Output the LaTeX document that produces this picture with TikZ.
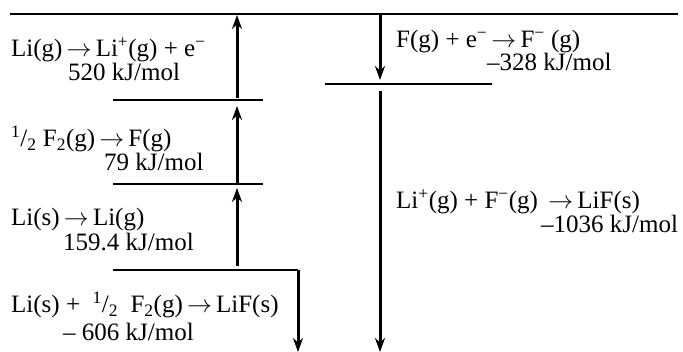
\documentclass[tikz,border=0pt]{standalone}
\usepackage{fontspec}
\setmainfont{Liberation Serif}
\usetikzlibrary{arrows.meta}
\tikzset{
  levelline/.style={line width=1.8pt},
  enarrow/.style={line width=3pt, -{Stealth[length=14pt,width=10pt]}},
  lbl/.style={anchor=base west, inner sep=0pt, font=\fontsize{25}{29}\selectfont}
}
\newcommand{\half}{\textsuperscript{1}/\textsubscript{2}}
\newcommand{\rarr}{\,$\rightarrow$\,}
\begin{document}
\begin{tikzpicture}[x=1pt,y=-1pt]
\useasboundingbox (0,0) rectangle (683,352);
% level lines
\coordinate (topL) at (10,14);
\coordinate (topR) at (678,14);
\coordinate (l2a) at (113,100);
\coordinate (l2b) at (263,100);
\coordinate (l3a) at (113,184);
\coordinate (l3b) at (263,184);
\coordinate (l4a) at (113,270);
\coordinate (l4b) at (298,270);
\coordinate (l4bot) at (298,352);
\coordinate (rla) at (325,84);
\coordinate (rlb) at (492,84);
\draw[levelline] (topL) -- (topR);
\draw[levelline] (l2a) -- (l2b);
\draw[levelline] (l3a) -- (l3b);
\draw[levelline] (l4a) -- (l4b);
\draw[levelline] (rla) -- (rlb);
% arrows
\coordinate (a1s) at (237,98);  \coordinate (a1e) at (237,15);
\coordinate (a2s) at (237,184); \coordinate (a2e) at (237,106);
\coordinate (a3s) at (237,266); \coordinate (a3e) at (237,188);
\coordinate (a5s) at (380,15);  \coordinate (a5e) at (380,80);
\coordinate (a6s) at (380,91);  \coordinate (a6e) at (380,352);
\draw[enarrow] (a1s) -- (a1e);
\draw[enarrow] (a2s) -- (a2e);
\draw[enarrow] (a3s) -- (a3e);
\draw[enarrow] (l4b) -- (l4bot);
\draw[enarrow] (a5s) -- (a5e);
\draw[enarrow] (a6s) -- (a6e);
% labels
\node[lbl] (t1) at (11,57) {Li(g)\rarr Li\textsuperscript{+}(g) + e\textsuperscript{−}};
\node[lbl] (t2) at (68,81) {520 kJ/mol};
\node[lbl] (t3) at (11,147) {\half\ F\textsubscript{2}(g)\rarr F(g)};
\node[lbl] (t4) at (104,171) {79 kJ/mol};
\node[lbl] (t5) at (11,226) {Li(s)\rarr Li(g)};
\node[lbl] (t6) at (63,251) {159.4 kJ/mol};
\node[lbl] (t7) at (11,313) {Li(s) +\ \ \half\ \ F\textsubscript{2}(g)\rarr LiF(s)};
\node[lbl] (t8) at (63,341) {– 606 kJ/mol};
\node[lbl] (t9) at (396,48) {F(g) + e\textsuperscript{−}\rarr F\textsuperscript{−} (g)};
\node[lbl] (t10) at (487,71) {–328 kJ/mol};
\node[lbl] (t11) at (396,209) {Li\textsuperscript{+}(g) + F\textsuperscript{−}(g)\ \rarr LiF(s)};
\node[lbl] (t12) at (541,233) {–1036 kJ/mol};
\end{tikzpicture}
\end{document}
